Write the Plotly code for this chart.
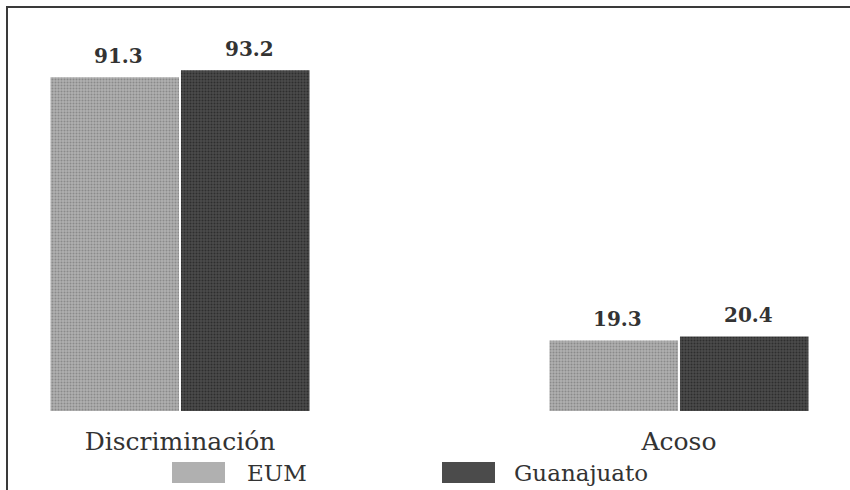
import plotly.graph_objects as go

categories = ["Discriminación", "Acoso"]
series_names = ["EUM", "Guanajuato"]
eum_values = [91.3, 19.3]
guanajuato_values = [93.2, 20.4]

W, H = 850, 490
M_L, M_R, M_T, M_B = 0, 0, 0, 79
PLOT_H = H - M_T - M_B
PX_PER_UNIT = 3.655
Y_MAX = PLOT_H / PX_PER_UNIT

BARGAP = 0.477
BARGROUPGAP = 0.015
colors = ["#b0b0b0", "#4b4b4b"]
fg_colors = ["#8a8a8a", "#2e2e2e"]
TEXT_COLOR = "#333333"
FONT = "DejaVu Serif"

fig = go.Figure()
all_values = [eum_values, guanajuato_values]
for name, vals, c, fg in zip(series_names, all_values, colors, fg_colors):
    fig.add_trace(go.Bar(
        x=categories, y=vals, name=name,
        marker=dict(color=c, line=dict(width=0),
                    pattern=dict(shape=".", size=3, solidity=0.35,
                                 fgcolor=fg, bgcolor=c, fillmode="replace")),
        showlegend=False, hoverinfo="skip",
    ))

# value labels above bars
slot = (1 - BARGAP) / len(series_names)
annotations = []
for s, vals in enumerate(all_values):
    offset = (s - (len(series_names) - 1) / 2) * slot
    for i, v in enumerate(vals):
        annotations.append(dict(
            x=i + offset, y=v, xref="x", yref="y", text=f"{v:.1f}",
            showarrow=False, yanchor="bottom", yshift=7, xshift=4,
            font=dict(family=FONT, size=20, color=TEXT_COLOR, weight="bold"),
        ))

# custom legend
def px_to_paper_x(px):
    return (px - M_L) / (W - M_L - M_R)

def px_to_paper_y(py):
    return (H - M_B - py) / PLOT_H

legend_swatch_x = [172, 442]
legend_text_x = [245, 512]
shapes = []
for name, c, sx, tx in zip(series_names, colors, legend_swatch_x, legend_text_x):
    shapes.append(dict(type="rect", xref="paper", yref="paper",
                       x0=px_to_paper_x(sx), x1=px_to_paper_x(sx + 53),
                       y0=px_to_paper_y(483), y1=px_to_paper_y(462),
                       fillcolor=c, line=dict(width=0)))
    annotations.append(dict(x=px_to_paper_x(tx), y=px_to_paper_y(473),
                            xref="paper", yref="paper", text=name,
                            showarrow=False, xanchor="left", yanchor="middle",
                            font=dict(family=FONT, size=23, color=TEXT_COLOR)))

# frame lines (left and top)
frame_color = "#3a3a3a"
shapes.append(dict(type="line", xref="paper", yref="paper",
                   x0=px_to_paper_x(7), x1=px_to_paper_x(7),
                   y0=px_to_paper_y(492), y1=px_to_paper_y(7),
                   line=dict(color=frame_color, width=2)))
shapes.append(dict(type="line", xref="paper", yref="paper",
                   x0=px_to_paper_x(6), x1=px_to_paper_x(852),
                   y0=px_to_paper_y(7), y1=px_to_paper_y(7),
                   line=dict(color=frame_color, width=2)))

x0_unit = -180 / 499
x1_unit = (W - 180) / 499

fig.update_layout(
    width=W, height=H,
    margin=dict(l=M_L, r=M_R, t=M_T, b=M_B),
    paper_bgcolor="white", plot_bgcolor="white",
    barmode="group", bargap=BARGAP, bargroupgap=BARGROUPGAP,
    hovermode=False,
    xaxis=dict(range=[x0_unit, x1_unit], showgrid=False, showline=False,
               zeroline=False, ticks="outside", ticklen=8,
               tickcolor="rgba(0,0,0,0)", fixedrange=True,
               tickfont=dict(family=FONT, size=25, color=TEXT_COLOR)),
    yaxis=dict(range=[0, Y_MAX], visible=False, showgrid=False, zeroline=False,
               fixedrange=True),
    annotations=annotations, shapes=shapes,
)

fig.write_html(
    "out.html",
    config={"displayModeBar": False},
    post_script="document.body.style.margin='0';document.body.style.padding='0';document.body.style.overflow='hidden';",
)
